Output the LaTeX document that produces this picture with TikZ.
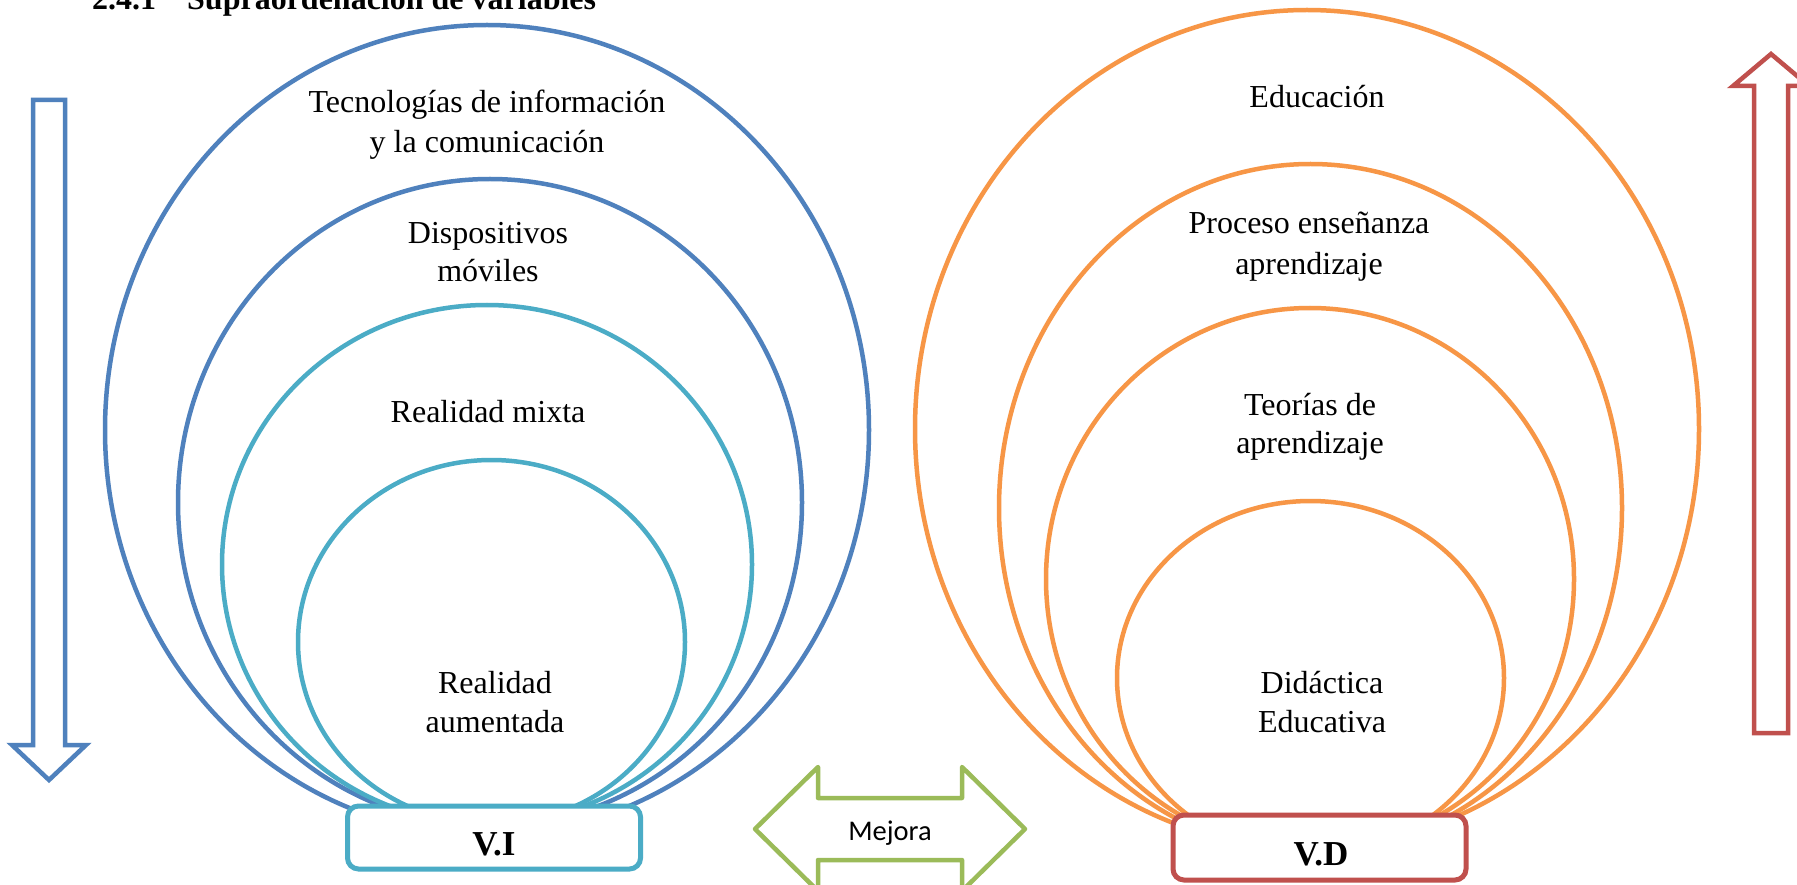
\documentclass[tikz,border=0pt]{standalone}
\usepackage{fontspec}
\setmainfont{Liberation Serif}
\newfontfamily\labelsans{Carlito}
\definecolor{ofblue}{HTML}{4F81BD}
\definecolor{ofteal}{HTML}{4BACC6}
\definecolor{oforange}{HTML}{F79646}
\definecolor{ofred}{HTML}{C0504D}
\definecolor{ofgreen}{HTML}{9BBB59}
\begin{document}
\begin{tikzpicture}[x=1pt,y=-1pt,
  ring/.style={line width=4.5pt},
  ringtext/.style={font=\fontsize{32}{40}\selectfont, anchor=base, inner sep=0pt},
  varbox/.style={draw, fill=white, rounded corners=11pt, line width=5pt,
                 minimum width=293pt, inner sep=0pt},
  varlbl/.style={font=\bfseries\fontsize{35}{42}\selectfont, anchor=base, inner sep=0pt},
  hollow/.style={line width=4.5pt, fill=white, line join=miter},
  headtext/.style={anchor=base west, inner sep=0pt, font=\bfseries\fontsize{32}{38}\selectfont}]

% canvas
\fill[white] (0,0) rectangle (1797,885);
\useasboundingbox (0,0) rectangle (1797,885);

% section heading
\node[headtext] (secnum) at (92,10) {2.4.1};
\node[headtext] (sectitle) at (187,10) {Supraordenación de variables};

% independent variable: nested ovals
\draw[ring, ofblue] (487,430) ellipse [x radius=382pt, y radius=405pt];
\draw[ring, ofblue] (490,502.5) ellipse [x radius=312pt, y radius=323.5pt];
\draw[ring, ofteal] (487,564.5) ellipse [x radius=265pt, y radius=259.5pt];
\draw[ring, ofteal] (491.5,642) ellipse [x radius=193.5pt, y radius=182pt];

\node[ringtext] (t1a) at (487,113) {Tecnologías de información};
\node[ringtext] (t1b) at (487,153) {y la comunicación};
\node[ringtext] (t2a) at (488,244) {Dispositivos};
\node[ringtext] (t2b) at (488,282) {móviles};
\node[ringtext] (t3)  at (488,422) {Realidad mixta};
\node[ringtext] (t4a) at (495,693) {Realidad};
\node[ringtext] (t4b) at (495,732) {aumentada};

% dependent variable: nested ovals
\draw[ring, oforange] (1307,429) ellipse [x radius=392pt, y radius=419pt];
\draw[ring, oforange] (1310.5,508) ellipse [x radius=311.5pt, y radius=344pt];
\draw[ring, oforange] (1310,579) ellipse [x radius=264pt, y radius=271pt];
\draw[ring, oforange] (1310.5,678) ellipse [x radius=193.5pt, y radius=177pt];

\node[ringtext] (u1)  at (1317,108) {Educación};
\node[ringtext] (u2a) at (1309,234) {Proceso enseñanza};
\node[ringtext] (u2b) at (1309,275) {aprendizaje};
\node[ringtext] (u3a) at (1310,415) {Teorías de};
\node[ringtext] (u3b) at (1310,453) {aprendizaje};
\node[ringtext] (u4a) at (1322,693) {Didáctica};
\node[ringtext] (u4b) at (1322,732) {Educativa};

% variable boxes
\node[varbox, draw=ofteal, minimum height=63pt] (vi) at (494,837.5) {};
\node[varlbl] (vilbl) at (494,855) {V.I};
\node[varbox, draw=ofred, minimum height=65pt] (vd) at (1319.5,847.5) {};
\node[varlbl] (vdlbl) at (1321,865) {V.D};

% block arrows (outlined, white inside)
\draw[hollow, draw=ofblue] (33,100) -- (65,100) -- (65,745) -- (86,745) -- (49,780)
  -- (12,745) -- (33,745) -- cycle;
\draw[hollow, draw=ofred] (1754,733) -- (1754,86) -- (1733,86) -- (1771,54) -- (1809,86)
  -- (1788,86) -- (1788,733) -- cycle;
\draw[hollow, draw=ofgreen, line join=round] (755,829) -- (818,767) -- (818,798) -- (962,798)
  -- (962,767) -- (1025,829) -- (962,891) -- (962,860) -- (818,860) -- (818,891) -- cycle;
\node[font=\labelsans\fontsize{28.5}{34}\selectfont, anchor=base, inner sep=0pt]
  (mejora) at (890,840) {Mejora};
\end{tikzpicture}
\end{document}
